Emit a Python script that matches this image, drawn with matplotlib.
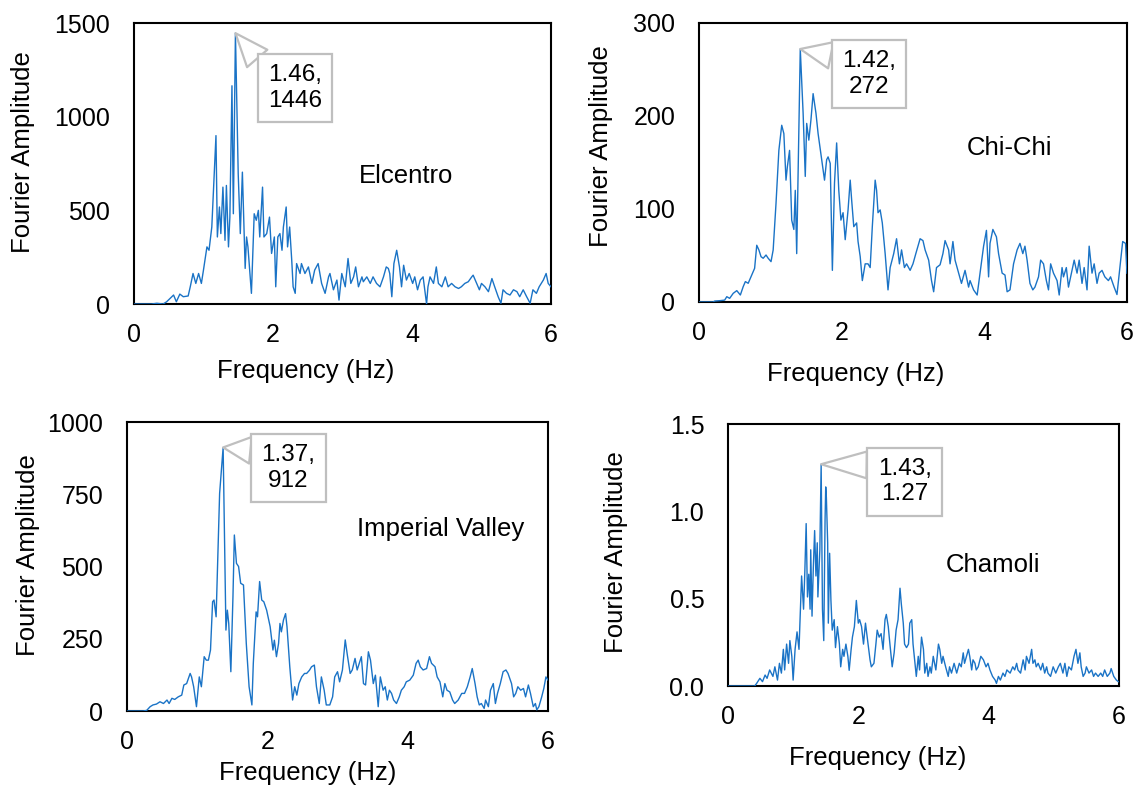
import numpy as np
import matplotlib
matplotlib.use("Agg")
import matplotlib.pyplot as plt
from matplotlib.ticker import FormatStrFormatter

plt.rcParams['font.family'] = ['Liberation Sans', 'DejaVu Sans']

## data (frequency in Hz, Fourier amplitude)
elc_f = [0.00, 0.25, 0.33, 0.42, 0.47, 0.57, 0.61, 0.66, 0.71, 0.78, 0.81, 0.85, 0.89, 0.93, 0.97,
         1.00, 1.05, 1.08, 1.12, 1.18, 1.20, 1.23, 1.25, 1.28, 1.31, 1.33, 1.36, 1.38, 1.41, 1.43,
         1.46, 1.50, 1.53, 1.56, 1.60, 1.62, 1.64, 1.69, 1.73, 1.76, 1.79, 1.81, 1.85, 1.87, 1.91,
         1.95, 1.98, 2.02, 2.04, 2.07, 2.10, 2.13, 2.15, 2.19, 2.21, 2.24, 2.27, 2.29, 2.32, 2.34,
         2.39, 2.41, 2.46, 2.51, 2.56, 2.60, 2.65, 2.70, 2.75, 2.80, 2.82, 2.87, 2.92, 2.95, 2.99,
         3.04, 3.08, 3.12, 3.16, 3.19, 3.23, 3.28, 3.30, 3.35, 3.40, 3.44, 3.49, 3.54, 3.59, 3.63,
         3.66, 3.68, 3.71, 3.74, 3.78, 3.82, 3.85, 3.88, 3.92, 3.96, 4.01, 4.04, 4.08, 4.12, 4.16,
         4.21, 4.23, 4.26, 4.31, 4.35, 4.38, 4.43, 4.48, 4.52, 4.57, 4.62, 4.67, 4.71, 4.76, 4.81,
         4.86, 4.88, 4.93, 4.97, 5.00, 5.05, 5.10, 5.15, 5.19, 5.24, 5.28, 5.31, 5.36, 5.41, 5.46,
         5.51, 5.55, 5.60, 5.65, 5.70, 5.74, 5.79, 5.83, 5.89, 5.93, 5.96, 6.00]
elc_a = [0, 0, 4, 0, 12, 48, 12, 53, 39, 43, 92, 163, 110, 163, 110,
         181, 305, 287, 411, 899, 358, 518, 376, 624, 340, 633, 305, 464, 1165, 482,
         1446, 695, 376, 704, 190, 358, 305, 57, 482, 447, 500, 358, 624, 358, 376,
         464, 270, 358, 92, 358, 376, 287, 411, 518, 305, 411, 234, 92, 57, 216,
         163, 216, 163, 198, 110, 181, 216, 110, 57, 145, 163, 76, 128, 21, 163,
         92, 243, 110, 145, 198, 92, 145, 119, 145, 110, 145, 110, 92, 145, 198,
         190, 163, 39, 216, 287, 198, 92, 207, 128, 163, 110, 145, 76, 128, 145,
         0, 92, 145, 110, 198, 110, 92, 145, 92, 110, 92, 83, 92, 110, 119,
         145, 154, 110, 76, 110, 92, 66, 136, 92, 39, 4, 76, 57, 48, 76,
         66, 39, 76, 39, 4, 76, 57, 92, 128, 163, 110, 92]

chi_f = [0.00, 0.20, 0.22, 0.29, 0.36, 0.39, 0.43, 0.48, 0.53, 0.58, 0.62, 0.65, 0.69, 0.74, 0.78,
         0.81, 0.84, 0.87, 0.90, 0.94, 0.97, 1.01, 1.04, 1.08, 1.12, 1.16, 1.19, 1.22, 1.24, 1.27,
         1.30, 1.33, 1.35, 1.37, 1.42, 1.46, 1.49, 1.51, 1.54, 1.57, 1.60, 1.64, 1.67, 1.72, 1.76,
         1.79, 1.81, 1.84, 1.87, 1.90, 1.93, 1.96, 1.99, 2.02, 2.05, 2.09, 2.12, 2.14, 2.17, 2.21,
         2.23, 2.26, 2.29, 2.33, 2.37, 2.40, 2.43, 2.47, 2.49, 2.51, 2.54, 2.57, 2.61, 2.65, 2.68,
         2.73, 2.77, 2.81, 2.84, 2.88, 2.91, 2.96, 3.00, 3.04, 3.10, 3.14, 3.17, 3.22, 3.26, 3.29,
         3.33, 3.38, 3.42, 3.45, 3.50, 3.52, 3.56, 3.59, 3.64, 3.68, 3.73, 3.78, 3.80, 3.85, 3.90,
         3.94, 3.99, 4.03, 4.06, 4.08, 4.12, 4.17, 4.20, 4.25, 4.29, 4.32, 4.36, 4.41, 4.46, 4.50,
         4.54, 4.57, 4.60, 4.64, 4.68, 4.71, 4.76, 4.79, 4.83, 4.87, 4.90, 4.93, 4.97, 5.02, 5.05,
         5.09, 5.11, 5.15, 5.18, 5.23, 5.26, 5.30, 5.33, 5.37, 5.40, 5.44, 5.47, 5.51, 5.54, 5.58,
         5.61, 5.65, 5.69, 5.74, 5.77, 5.82, 5.86, 5.90, 5.94, 5.98, 6.00]
chi_a = [0, 0, 1, 1.4, 2, 5.7, 3.9, 9.3, 12.2, 7.5, 16.5, 21.9, 20.1, 29, 36.2,
         61, 55.9, 48.7, 47, 50.5, 47, 43.4, 55.9, 106, 163, 190, 181, 131, 146, 163,
         88, 78, 120, 52, 272, 203, 135, 192, 174, 196, 224, 203, 181, 153, 131,
         153, 156, 149, 34, 128, 171, 120, 88, 96, 67, 99, 131, 110, 81, 85,
         65, 49, 23, 41, 41, 37, 81, 131, 120, 96, 99, 85, 52, 13, 37,
         52, 68, 41, 56, 37, 41, 34, 41, 52, 68, 66, 56, 45, 23, 11,
         37, 40, 52, 66, 56, 41, 65, 45, 31, 20, 34, 16, 23, 13, 7.5,
         31, 60, 77, 27, 63, 78, 70, 52, 31, 29, 11, 13, 41, 56, 63,
         52, 60, 45, 20, 13, 16, 27, 45, 41, 23, 13, 41, 31, 23, 7.5,
         37, 27, 37, 16, 34, 45, 31, 45, 20, 37, 13, 60, 31, 41, 20,
         31, 34, 27, 23, 27, 16, 8, 37, 65, 63, 31]

imp_f = [0.00, 0.23, 0.28, 0.33, 0.37, 0.42, 0.47, 0.52, 0.57, 0.60, 0.64, 0.68, 0.73, 0.78, 0.81,
         0.85, 0.90, 0.92, 0.95, 0.99, 1.03, 1.06, 1.10, 1.13, 1.16, 1.19, 1.22, 1.24, 1.27, 1.30,
         1.32, 1.37, 1.41, 1.43, 1.45, 1.48, 1.51, 1.53, 1.56, 1.59, 1.62, 1.66, 1.70, 1.74, 1.78,
         1.80, 1.84, 1.86, 1.89, 1.92, 1.95, 1.99, 2.04, 2.08, 2.10, 2.13, 2.16, 2.18, 2.20, 2.23,
         2.26, 2.28, 2.32, 2.36, 2.39, 2.42, 2.45, 2.49, 2.53, 2.56, 2.60, 2.63, 2.67, 2.70, 2.74,
         2.77, 2.81, 2.84, 2.89, 2.93, 2.96, 3.00, 3.03, 3.07, 3.11, 3.14, 3.18, 3.21, 3.25, 3.28,
         3.31, 3.34, 3.37, 3.40, 3.44, 3.47, 3.51, 3.54, 3.58, 3.61, 3.65, 3.68, 3.71, 3.74, 3.77,
         3.80, 3.84, 3.88, 3.91, 3.95, 3.98, 4.03, 4.08, 4.12, 4.15, 4.18, 4.22, 4.27, 4.31, 4.34,
         4.39, 4.42, 4.46, 4.50, 4.53, 4.56, 4.60, 4.64, 4.67, 4.72, 4.77, 4.81, 4.85, 4.89, 4.92,
         4.96, 4.99, 5.02, 5.05, 5.09, 5.11, 5.15, 5.18, 5.22, 5.25, 5.28, 5.32, 5.36, 5.40, 5.43,
         5.48, 5.51, 5.54, 5.57, 5.61, 5.65, 5.68, 5.72, 5.75, 5.79, 5.82, 5.84, 5.87, 5.91, 5.94,
         5.97, 6.00]
imp_a = [0, 0, 2, 15, 21, 24, 32, 26, 38, 26, 44, 40, 49, 55, 90,
         95, 130, 118, 84, 15, 118, 84, 188, 176, 176, 211, 378, 384, 326, 580,
         753, 912, 280, 349, 303, 136, 395, 609, 511, 500, 442, 436, 234, 84, 21,
         165, 343, 326, 448, 384, 378, 349, 292, 211, 245, 188, 234, 303, 274, 315,
         337, 292, 153, 38, 84, 55, 95, 118, 130, 130, 141, 153, 159, 84, 26,
         118, 72, 21, 21, 49, 118, 136, 101, 142, 246, 194, 130, 142, 182, 142,
         165, 188, 95, 90, 205, 176, 95, 124, 15, 118, 72, 84, 38, 72, 61,
         38, 26, 49, 72, 84, 101, 107, 124, 165, 176, 153, 142, 147, 188, 165,
         153, 118, 101, 49, 95, 72, 66, 38, 26, 38, 61, 61, 84, 118, 147,
         95, 49, 21, 26, 9, 38, 15, 72, 95, 26, 61, 95, 136, 142, 130,
         95, 49, 61, 84, 72, 78, 49, 90, 61, 15, 26, 4, 15, 49, 78,
         118, 107]

cha_f = [0.00, 0.41, 0.44, 0.49, 0.53, 0.57, 0.60, 0.64, 0.69, 0.72, 0.76, 0.79, 0.82, 0.85, 0.87,
         0.90, 0.93, 0.95, 0.98, 1.00, 1.03, 1.06, 1.09, 1.13, 1.16, 1.18, 1.20, 1.22, 1.24, 1.26,
         1.27, 1.29, 1.31, 1.33, 1.35, 1.37, 1.38, 1.41, 1.43, 1.45, 1.47, 1.49, 1.50, 1.51, 1.53,
         1.54, 1.56, 1.58, 1.60, 1.63, 1.65, 1.68, 1.71, 1.73, 1.76, 1.78, 1.81, 1.84, 1.86, 1.89,
         1.91, 1.94, 1.97, 2.00, 2.02, 2.05, 2.08, 2.11, 2.15, 2.18, 2.20, 2.24, 2.27, 2.29, 2.32,
         2.35, 2.38, 2.41, 2.43, 2.46, 2.48, 2.52, 2.55, 2.58, 2.61, 2.64, 2.66, 2.69, 2.71, 2.74,
         2.77, 2.79, 2.82, 2.84, 2.87, 2.89, 2.92, 2.94, 2.97, 3.00, 3.02, 3.05, 3.07, 3.10, 3.12,
         3.15, 3.19, 3.23, 3.25, 3.28, 3.30, 3.34, 3.38, 3.40, 3.43, 3.47, 3.51, 3.55, 3.58, 3.61,
         3.63, 3.66, 3.69, 3.71, 3.74, 3.76, 3.79, 3.81, 3.84, 3.88, 3.92, 3.96, 3.99, 4.02, 4.06,
         4.10, 4.12, 4.15, 4.18, 4.22, 4.25, 4.28, 4.33, 4.37, 4.40, 4.43, 4.45, 4.49, 4.53, 4.56,
         4.58, 4.62, 4.66, 4.68, 4.71, 4.73, 4.76, 4.80, 4.83, 4.86, 4.89, 4.91, 4.95, 4.99, 5.03,
         5.07, 5.10, 5.14, 5.17, 5.20, 5.23, 5.27, 5.31, 5.34, 5.37, 5.40, 5.42, 5.45, 5.48, 5.50,
         5.54, 5.58, 5.61, 5.64, 5.68, 5.72, 5.75, 5.78, 5.82, 5.86, 5.88, 5.92, 5.96, 5.99]
cha_a = [0, 0, 0.015, 0.044, 0.025, 0.063, 0.044, 0.092, 0.055, 0.11, 0.034, 0.13, 0.074, 0.21, 0.092,
         0.24, 0.13, 0.26, 0.17, 0.034, 0.21, 0.31, 0.21, 0.63, 0.44, 0.66, 0.93, 0.51, 0.64, 0.44,
         0.78, 0.40, 0.68, 0.89, 0.63, 0.82, 0.51, 0.78, 1.27, 0.44, 0.26, 0.95, 1.14, 1.08, 0.82,
         0.36, 0.76, 0.49, 0.32, 0.38, 0.22, 0.34, 0.24, 0.11, 0.21, 0.17, 0.24, 0.17, 0.09, 0.21,
         0.28, 0.34, 0.49, 0.36, 0.38, 0.34, 0.24, 0.36, 0.24, 0.15, 0.11, 0.13, 0.24, 0.32, 0.28,
         0.30, 0.21, 0.38, 0.41, 0.34, 0.26, 0.11, 0.19, 0.32, 0.38, 0.56, 0.47, 0.36, 0.24, 0.22,
         0.24, 0.36, 0.38, 0.24, 0.13, 0.055, 0.17, 0.092, 0.28, 0.21, 0.074, 0.13, 0.055, 0.11, 0.074,
         0.17, 0.092, 0.24, 0.21, 0.13, 0.17, 0.11, 0.055, 0.11, 0.074, 0.13, 0.074, 0.13, 0.11, 0.19,
         0.13, 0.17, 0.21, 0.17, 0.092, 0.15, 0.13, 0.092, 0.11, 0.17, 0.15, 0.11, 0.13, 0.092, 0.055,
         0.034, 0.015, 0.055, 0.034, 0.074, 0.055, 0.092, 0.074, 0.11, 0.092, 0.13, 0.092, 0.074, 0.15, 0.092,
         0.17, 0.13, 0.21, 0.13, 0.15, 0.11, 0.13, 0.092, 0.13, 0.074, 0.11, 0.074, 0.055, 0.11, 0.074,
         0.11, 0.13, 0.074, 0.13, 0.055, 0.11, 0.092, 0.17, 0.21, 0.13, 0.19, 0.11, 0.055, 0.074, 0.11,
         0.074, 0.092, 0.055, 0.074, 0.055, 0.074, 0.055, 0.092, 0.055, 0.074, 0.10, 0.055, 0.034, 0.025]

names = ['Elcentro', 'Chi-Chi', 'Imperial Valley', 'Chamoli']
peaks = [(1.46, 1446), (1.42, 272), (1.37, 912), (1.43, 1.27)]
peak_labels = ['1.46,\n1446', '1.42,\n272', '1.37,\n912', '1.43,\n1.27']
y_max = [1500, 300, 1000, 1.5]
y_ticks = [[0, 500, 1000, 1500], [0, 100, 200, 300], [0, 250, 500, 750, 1000], [0.0, 0.5, 1.0, 1.5]]
x_ticks = [0, 2, 4, 6]

series = [(elc_f, elc_a), (chi_f, chi_a), (imp_f, imp_a), (cha_f, cha_a)]

# layout: axes rect, callout centre, name position (baseline), xlabel coords, ylabel coords
rects = [[0.1174, 0.6132, 0.3655, 0.3575],
         [0.6126, 0.6158, 0.3751, 0.3550],
         [0.1113, 0.0954, 0.3690, 0.3677],
         [0.6380, 0.1272, 0.3427, 0.3333]]
callout_xy = [(2.32, 1154), (2.38, 245), (2.30, 841), (2.71, 1.17)]
name_xy = [(3.91, 644), (4.35, 158), (4.47, 605), (4.07, 0.654)]
xlab_xy = [(0.412, -0.263), (0.367, -0.283), (0.428, -0.239), (0.384, -0.302)]
ylab_xy = [(-0.249, 0.542), (-0.213, 0.559), (-0.219, 0.54), (-0.269, 0.51)]

line_color = '#1a73c6'

fig = plt.figure(figsize=(11.41, 7.86), dpi=100)

for i in range(4):
    ax = fig.add_axes(rects[i])
    f, a = series[i]
    ax.plot(f, a, color=line_color, linewidth=1.0, zorder=3)
    ax.set_xlim(0, 6)
    ax.set_ylim(0, y_max[i])
    ax.set_xticks(x_ticks)
    ax.set_yticks(y_ticks[i])
    if i == 3:
        ax.yaxis.set_major_formatter(FormatStrFormatter('%.1f'))
    ax.tick_params(axis='both', length=0, labelsize=18)
    ax.tick_params(axis='x', pad=14)
    ax.tick_params(axis='y', pad=17)
    for sp in ax.spines.values():
        sp.set_linewidth(1.5)
        sp.set_color('black')

    ax.set_xlabel('Frequency (Hz)', fontsize=18.5)
    ax.xaxis.set_label_coords(*xlab_xy[i])
    ax.xaxis.label.set_verticalalignment('baseline')
    ax.set_ylabel('Fourier Amplitude', fontsize=18.5)
    ax.yaxis.set_label_coords(*ylab_xy[i])
    ax.yaxis.label.set_verticalalignment('baseline')

    ax.text(name_xy[i][0], name_xy[i][1], names[i], fontsize=18.5, ha='center', va='baseline')

    ax.annotate(peak_labels[i], xy=peaks[i], xytext=callout_xy[i],
                ha='center', va='center', fontsize=17.5,
                bbox=dict(boxstyle='square,pad=0.42', fc='white', ec='#bfbfbf', lw=1.6),
                arrowprops=dict(arrowstyle='wedge,tail_width=1.1,shrink_factor=0.5',
                                fc='white', ec='#bfbfbf', lw=1.6,
                                relpos=(0, 0.85), shrinkA=0, shrinkB=0),
                zorder=5)

fig.savefig('out.png', dpi=100)
